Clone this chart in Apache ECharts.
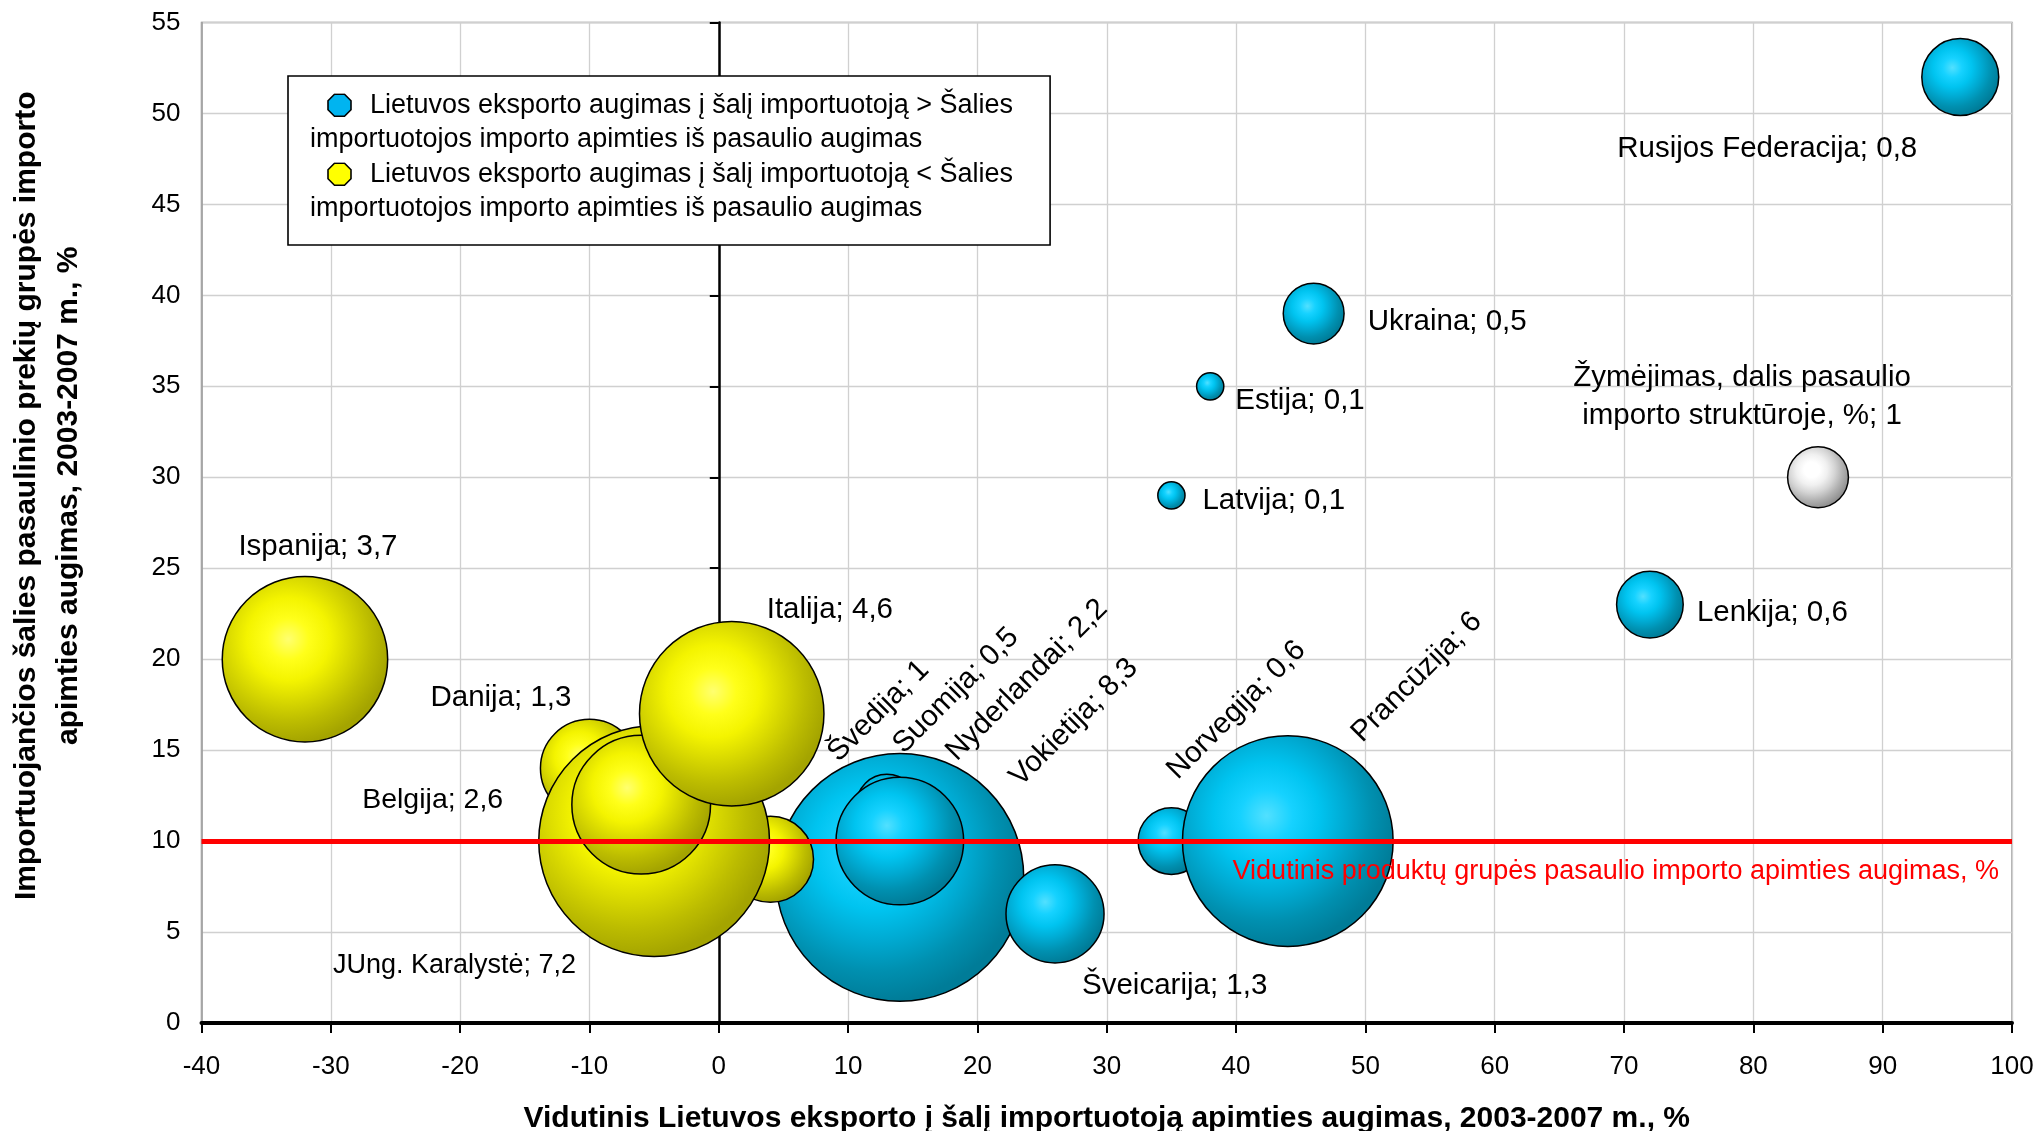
<!DOCTYPE html>
<html>
<head>
<meta charset="utf-8">
<script src="https://cdn.jsdelivr.net/npm/echarts@6.0.0/dist/echarts.min.js"></script>
<style>
  html, body { margin: 0; padding: 0; background: #fff; }
  #chart { width: 2038px; height: 1131px; }
</style>
</head>
<body>
<div id="chart"></div>
<script>
// countries, export growth of Lithuania to them (x), their world import growth (y), share of world imports (bubble)
const names = ['Ispanija', 'Danija', 'Švedija', 'JUng. Karalystė', 'Belgija', 'Italija',
    'Vokietija', 'Suomija', 'Nyderlandai', 'Šveicarija', 'Norvegija', 'Prancūzija',
    'Lenkija', 'Latvija', 'Estija', 'Ukraina', 'Rusijos Federacija'];
const exportGrowth = [-32, -10, 4, -5, -6, 1, 14, 13, 14, 26, 35, 44, 72, 35, 38, 46, 96];
const importGrowth = [20, 14, 9, 10, 12, 17, 8, 12, 10, 6, 10, 10, 23, 29, 35, 39, 52];
const worldShare = [3.7, 1.3, 1, 7.2, 2.6, 4.6, 8.3, 0.5, 2.2, 1.3, 0.6, 6, 0.6, 0.1, 0.1, 0.5, 0.8];

// the key bubble
const keyPoint = [85, 30];
const keySize = 0.5;
const keyText = 'Žymėjimas, dalis pasaulio\nimporto struktūroje, %; 1';

// average world import growth of the product group
const avgImportGrowth = 10;
const avgText = 'Vidutinis produktų grupės pasaulio importo apimties augimas, %';

const legendBlue = ['Lietuvos eksporto augimas į šalį importuotoją > Šalies', 'importuotojos importo apimties iš pasaulio augimas'];
const legendYellow = ['Lietuvos eksporto augimas į šalį importuotoją < Šalies', 'importuotojos importo apimties iš pasaulio augimas'];

const xTitle = 'Vidutinis Lietuvos eksporto į šalį importuotoją apimties augimas, 2003-2007 m., %';
const yTitle = 'Importuojančios šalies pasaulinio prekių grupės importo\napimties augimas, 2003-2007 m., %';

// label placement (screen px from bubble centre)
const labelPlace = {
    'Ispanija': { dx: 13, dy: -112, align: 'center' },
    'Danija': { dx: -18, dy: -70, align: 'right' },
    'Švedija': { dx: 108, dy: -148, rotate: 45 },
    'JUng. Karalystė': { dx: -78, dy: 124, align: 'right', fontSize: 27 },
    'Belgija': { dx: -138, dy: -5, align: 'right', fontSize: 28.5 },
    'Italija': { dx: 35, dy: -104, align: 'left' },
    'Vokietija': { dx: 174, dy: -155, rotate: 45 },
    'Suomija': { dx: 69, dy: -114, rotate: 45 },
    'Nyderlandai': { dx: 127, dy: -161, rotate: 45 },
    'Šveicarija': { dx: 27, dy: 72, align: 'left' },
    'Norvegija': { dx: 65, dy: -131, rotate: 45 },
    'Prancūzija': { dx: 129, dy: -164, rotate: 45 },
    'Lenkija': { dx: 47, dy: 8, align: 'left' },
    'Latvija': { dx: 31, dy: 5, align: 'left' },
    'Estija': { dx: 25, dy: 15, align: 'left' },
    'Ukraina': { dx: 54, dy: 8, align: 'left' },
    'Rusijos Federacija': { dx: -43, dy: 72, align: 'right' }
};

const FONT = '"Liberation Sans", Arial, sans-serif';
const BUBBLE_K = 86; // px diameter for share = 1

const radial = (stops) => ({
    type: 'radial', x: 0.4, y: 0.38, r: 0.62,
    colorStops: stops.map((c, i) => ({ offset: i / (stops.length - 1), color: c }))
});
const blueFill = radial(['#52e0ff', '#16d2ff', '#00c4f0', '#00aad2', '#0090b0', '#007c98']);
const yellowFill = radial(['#ffff70', '#ffff1a', '#f4f400', '#d8d800', '#bcbc00', '#a4a400']);
const whiteFill = radial(['#ffffff', '#ffffff', '#f0f0f0', '#d4d4d4', '#b0b0b0', '#909090']);

function octagon(fill) {
    const svg = "<svg xmlns='http://www.w3.org/2000/svg' width='25' height='24'>" +
        "<polygon points='7.5,1 17.5,1 24,7.5 24,16.5 17.5,23 7.5,23 1,16.5 1,7.5' fill='" + fill +
        "' stroke='black' stroke-width='1.6'/></svg>";
    return 'data:image/svg+xml;charset=utf-8,' + encodeURIComponent(svg);
}

function labelFor(name, text) {
    const p = labelPlace[name];
    let ox = p.dx, oy = p.dy;
    if (p.rotate) {
        // rotation pivots on the bubble centre, so turn the screen offset into the label's frame
        const a = p.rotate * Math.PI / 180, c = Math.cos(a), s = Math.sin(a);
        ox = p.dx * c - p.dy * s;
        oy = p.dx * s + p.dy * c;
    }
    return {
        show: true, position: 'inside', offset: [ox, oy],
        rotate: p.rotate || 0, align: p.align || 'center', verticalAlign: 'middle',
        formatter: text, fontSize: p.fontSize || 29.5, color: '#000', fontFamily: FONT
    };
}

const blueData = [], yellowData = [];
names.forEach((n, i) => {
    const item = {
        name: n,
        value: [exportGrowth[i], importGrowth[i], worldShare[i]],
        label: labelFor(n, n + '; ' + String(worldShare[i]).replace('.', ','))
    };
    (exportGrowth[i] > importGrowth[i] ? blueData : yellowData).push(item);
});

const blueName = legendBlue.join(' ');
const yellowName = legendYellow.join(' ');
const legendLines = {};
legendLines[blueName] = legendBlue;
legendLines[yellowName] = legendYellow;

const bubbleSize = (v) => BUBBLE_K * Math.sqrt(v[2]);
const bubbleBase = {
    type: 'scatter',
    symbol: 'circle',
    symbolSize: bubbleSize,
    emphasis: { disabled: true },
    z: 2
};

const chart = echarts.init(document.getElementById('chart'));

chart.setOption({
    animation: false,
    textStyle: { fontFamily: FONT },
    grid: {
        left: 201.5, right: 26, top: 22.5, bottom: 108,
        outerBoundsMode: 'none',
        show: true, borderColor: '#999', borderWidth: 1.5, backgroundColor: '#fff'
    },
    legend: {
        data: [blueName, yellowName],
        orient: 'vertical',
        left: 288, top: 76,
        itemGap: 0, itemWidth: 0, itemHeight: 0, icon: 'circle',
        padding: [12, 37, 19, 16],
        backgroundColor: '#fff', borderColor: '#000', borderWidth: 1.6,
        selectedMode: false,
        formatter: (name) => (name === blueName ? '{sp|}{ib|}{g|}' : '{sp|}{iy|}{g|}') +
            legendLines[name][0] + '\n' + legendLines[name][1],
        textStyle: {
            fontSize: 27, color: '#000', fontFamily: FONT, lineHeight: 34.5,
            rich: {
                sp: { width: 17, lineHeight: 34.5 },
                g: { width: 18, lineHeight: 34.5 },
                ib: { width: 25, height: 24, lineHeight: 34.5, backgroundColor: { image: octagon('#00b4f0') } },
                iy: { width: 25, height: 24, lineHeight: 34.5, backgroundColor: { image: octagon('#ffff00') } }
            }
        }
    },
    xAxis: {
        type: 'value', min: -40, max: 100, interval: 10, position: 'bottom',
        axisLine: { onZero: false, lineStyle: { color: '#000', width: 4 } },
        axisTick: { show: true, length: 10, lineStyle: { color: '#000', width: 2 } },
        axisLabel: { fontSize: 26, color: '#000', margin: 31, fontFamily: FONT },
        splitLine: { show: true, lineStyle: { color: '#d0d0d0', width: 1.3 } },
        name: xTitle, nameLocation: 'middle', nameGap: 81,
        nameTextStyle: { fontSize: 30, fontWeight: 'bold', color: '#000', fontFamily: FONT }
    },
    yAxis: [{
        type: 'value', min: 0, max: 55, interval: 5, position: 'left',
        axisLine: { show: true, onZero: false, lineStyle: { color: '#999', width: 1.5 } },
        axisTick: { show: false },
        axisLabel: { fontSize: 26, color: '#000', margin: 21, fontFamily: FONT },
        splitLine: { show: true, lineStyle: { color: '#d0d0d0', width: 1.3 } },
        name: yTitle, nameLocation: 'middle', nameRotate: 90, nameGap: 112,
        nameTextStyle: {
            fontSize: 30, fontWeight: 'bold', color: '#000', fontFamily: FONT,
            lineHeight: 42, padding: [0, 0, 0, 54]
        }
    }, {
        type: 'value', min: 0, max: 55, interval: 5, position: 'left',
        axisLine: { show: true, onZero: true, onZeroAxisIndex: 0, lineStyle: { color: '#000', width: 2.5 } },
        axisTick: { show: true, length: 9, lineStyle: { color: '#000', width: 2 } },
        axisLabel: { show: false },
        splitLine: { show: false }
    }],
    series: [
        Object.assign({}, bubbleBase, {
            name: blueName,
            data: blueData,
            itemStyle: { color: blueFill, borderColor: '#000', borderWidth: 1.5, opacity: 1 },
            markLine: {
                silent: true, symbol: 'none', z: 5,
                lineStyle: { color: '#ff0000', width: 5, type: 'solid', opacity: 1 },
                label: {
                    show: true, position: 'insideEndBottom', formatter: avgText,
                    color: '#ff0000', fontSize: 27, fontFamily: FONT, distance: [13, 17]
                },
                data: [{ yAxis: avgImportGrowth }]
            }
        }),
        Object.assign({}, bubbleBase, {
            name: yellowName,
            data: yellowData,
            itemStyle: { color: yellowFill, borderColor: '#000', borderWidth: 1.5, opacity: 1 }
        }),
        Object.assign({}, bubbleBase, {
            name: 'Žymėjimas',
            data: [{
                name: 'key',
                value: [keyPoint[0], keyPoint[1], keySize],
                label: {
                    show: true, position: 'inside', offset: [-76, -80],
                    align: 'center', verticalAlign: 'middle', formatter: keyText,
                    fontSize: 29.5, lineHeight: 38, color: '#000', fontFamily: FONT
                }
            }],
            itemStyle: { color: whiteFill, borderColor: '#000', borderWidth: 1.5, opacity: 1 }
        })
    ]
});
</script>
</body>
</html>
